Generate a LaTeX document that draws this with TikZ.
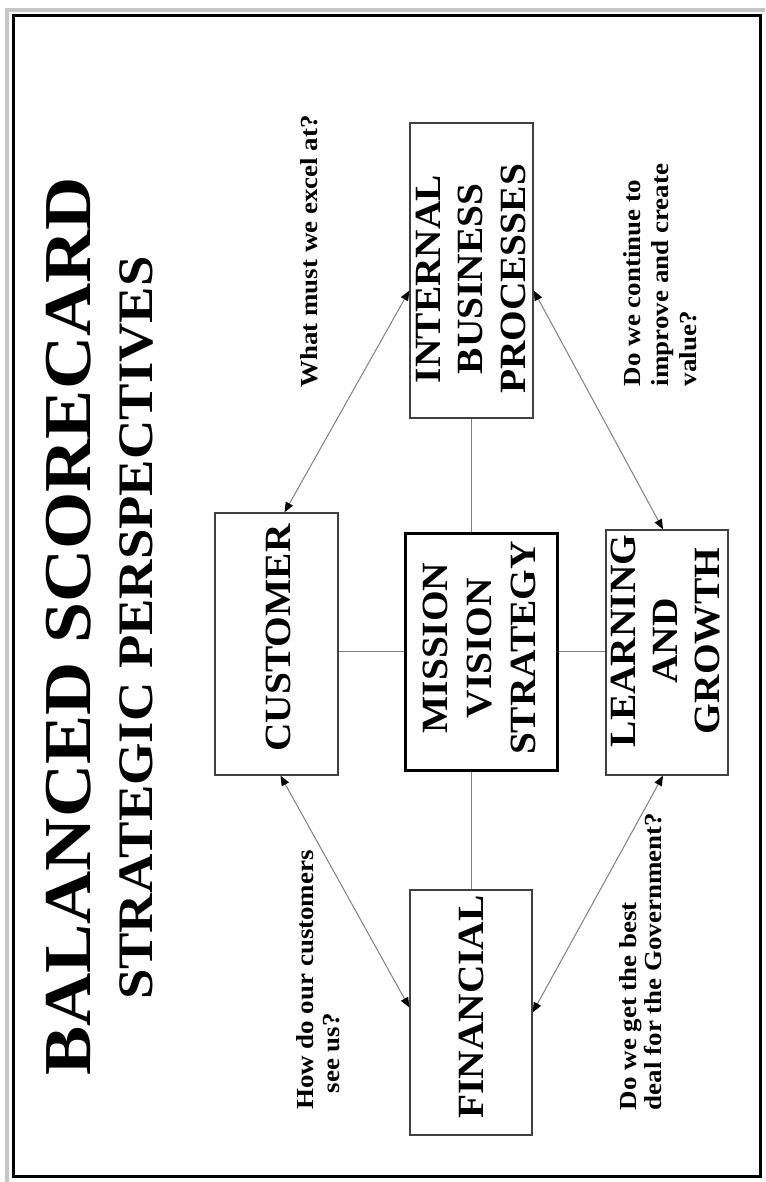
\documentclass[tikz,border=0pt]{standalone}
\usepackage{fontspec}
\usepackage{graphicx}
\setmainfont{Liberation Serif}
\usetikzlibrary{arrows.meta}
\newcommand{\hsc}[2]{\scalebox{#1}[1]{\begin{tabular}{@{}c@{}}#2\end{tabular}}}
\newcommand{\hsl}[2]{\scalebox{#1}[1]{\begin{tabular}{@{}l@{}}#2\end{tabular}}}
\begin{document}
\begin{tikzpicture}[x=1pt,y=-1pt,
  box/.style={draw=black!75, line width=1.3pt, fill=white, inner sep=0pt, rectangle},
  corebox/.style={draw=black, line width=3pt, fill=white, inner sep=0pt, rectangle},
  boxtext/.style={rotate=90, inner sep=0pt, font=\bfseries\fontsize{37}{42.5}\selectfont},
  question/.style={rotate=90, inner sep=0pt, font=\bfseries\fontsize{24.5}{26}\selectfont},
  link/.style={draw=black!50, line width=1pt},
  dbl/.style={draw=black!50, line width=1pt,
    {Triangle[length=10pt,width=8pt,color=black]}-{Triangle[length=10pt,width=8pt,color=black]}}
]
\useasboundingbox (0,0) rectangle (765,1182);
\fill[white] (0,0) rectangle (765,1182);
% frame
\draw[gray!45, line width=3.5pt] (7,1182) -- (7,10) -- (765,10);
\draw[black, line width=3pt] (13,16) rectangle (760,1176);

% titles
\node[rotate=90, anchor=base west, inner sep=0pt, font=\bfseries\fontsize{67}{70}\selectfont] (title) at (90,1076) {\scalebox{1.1}[1]{BALANCED SCORECARD}};
\node[rotate=90, anchor=base west, inner sep=0pt, font=\bfseries\fontsize{49.6}{52}\selectfont] (subtitle) at (152,1000) {\scalebox{1.1}[1]{STRATEGIC PERSPECTIVES}};

% boxes
\node[box, minimum width=123pt, minimum height=295pt] (ibp) at (471.5,270.5) {};
\node[box, minimum width=123pt, minimum height=262pt] (cust) at (276.5,644) {};
\node[corebox, minimum width=152pt, minimum height=237pt] (mvs) at (481,651.5) {};
\node[box, minimum width=122pt, minimum height=245pt] (lg) at (667,652.5) {};
\node[box, minimum width=122pt, minimum height=245pt] (fin) at (471,1012.5) {};

% box texts
\node[boxtext] (ibpt) at (474,279) {\hsc{1.065}{INTERNAL\\BUSINESS\\PROCESSES}};
\node[boxtext] (custt) at (278,638) {\scalebox{1.065}[1]{CUSTOMER}};
\node[boxtext, font=\bfseries\fontsize{37}{44}\selectfont] (mvst) at (483,648) {\hsc{1.065}{MISSION\\VISION\\STRATEGY}};
\node[boxtext, font=\bfseries\fontsize{37}{42}\selectfont] (lgt) at (669,641) {\hsc{1.065}{LEARNING\\AND\\GROWTH}};
\node[boxtext] (fint) at (471.5,1007) {\scalebox{1.065}[1]{FINANCIAL}};

% connectors
\draw[link] (ibp.south) -- (ibp.south |- mvs.north);
\draw[link] (mvs.south -| fin.north) -- (fin.north);
\draw[link] (cust.east |- mvs.west) -- (mvs.west);
\draw[link] (mvs.east) -- (mvs.east -| lg.west);

\draw[dbl] ([xshift=8pt]cust.north) -- ([yshift=-20pt]ibp.west);
\draw[dbl] ([yshift=-20pt]ibp.east) -- ([xshift=-4pt]lg.north);
\draw[dbl] ([xshift=4pt]cust.south) -- ([yshift=5pt]fin.west);
\draw[dbl] ([xshift=-4pt]lg.south) -- (fin.east);

% questions
\node[question] (q1) at (312,251.5) {\hsl{1.1}{What must we excel at?}};
\node[question] (q2) at (321,980) {\hsl{1.1}{How do our customers\\\hspace*{15pt}see us?}};
\node[question, font=\bfseries\fontsize{24.5}{28}\selectfont] (q3) at (663,275) {\hsl{1.1}{Do we continue to\\improve and create\\value?}};
\node[question, font=\bfseries\fontsize{24.5}{25}\selectfont] (q4) at (644,961.5) {\hsl{1.1}{Do we get the best\\deal for the Government?}};
\end{tikzpicture}
\end{document}
